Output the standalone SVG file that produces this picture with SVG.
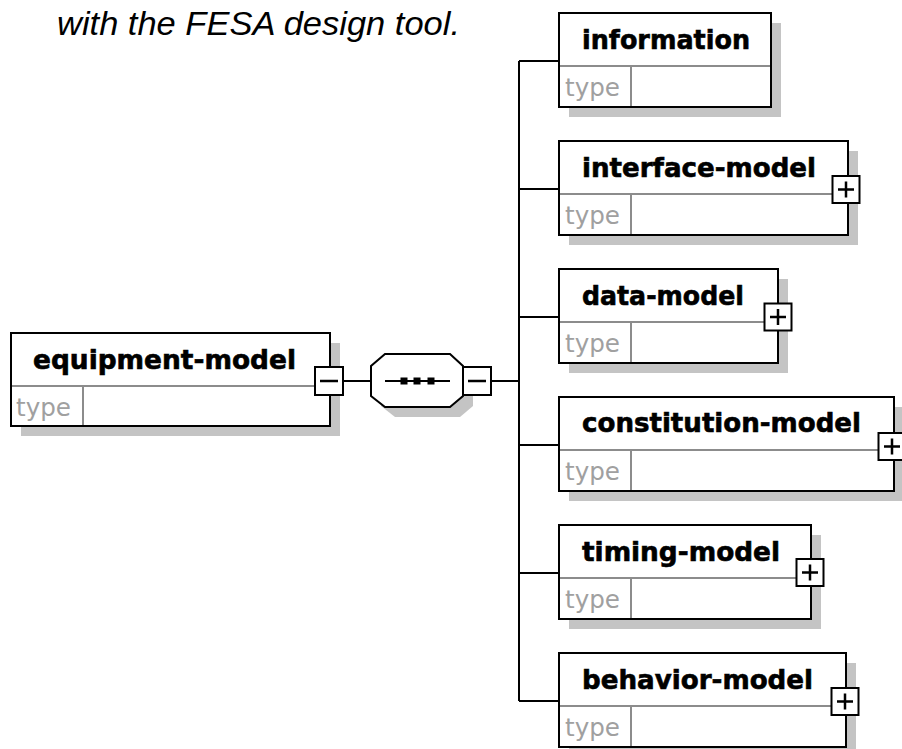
<svg xmlns="http://www.w3.org/2000/svg" xmlns:xlink="http://www.w3.org/1999/xlink" width="902" height="749" viewBox="0 0 902 749">
  <style>
    .shadow { fill: #c4c4c4; }
    .box { fill: #ffffff; stroke: #000000; stroke-width: 2; }
    .sep { stroke: #8c8c8c; stroke-width: 2; fill: none; }
    .name { font-family: "DejaVu Sans", Verdana, sans-serif; font-weight: bold; font-size: 26px; fill: #000000; stroke: #000000; stroke-width: 0.6; }
    .type { font-family: "DejaVu Sans", Verdana, sans-serif; font-size: 24px; fill: #a0a0a0; }
    .wire { stroke: #000000; stroke-width: 2; fill: none; }
    .toggle { fill: #ffffff; stroke: #000000; stroke-width: 2; }
    .sign { stroke: #000000; stroke-width: 2.5; fill: none; }
    .caption { font-family: "Liberation Sans", Arial, sans-serif; font-style: italic; font-size: 34px; fill: #000000; }
  </style>
  <defs>
    <!-- expand / collapse toggles, centred on the origin -->
    <g id="plus">
      <rect class="toggle" x="-13.5" y="-13.5" width="27" height="27"/>
      <path class="sign" d="M -8 0 H 8 M 0 -8 V 8"/>
    </g>
    <g id="minus">
      <rect class="toggle" x="-14" y="-14" width="28" height="28"/>
      <path class="sign" d="M -9 0 H 9"/>
    </g>
  </defs>

  <rect width="902" height="749" fill="#ffffff"/>

  <text class="caption" x="57" y="35" textLength="403" lengthAdjust="spacingAndGlyphs">with the FESA design tool.</text>

  <!-- connectors -->
  <g id="connectors">
    <path class="wire" d="M 343 381 H 371"/>
    <path class="wire" d="M 491 381 H 519"/>
    <path class="wire" d="M 519 61 V 701"/>
    <path class="wire" d="M 519 61 H 559"/>
    <path class="wire" d="M 519 189 H 559"/>
    <path class="wire" d="M 519 317 H 559"/>
    <path class="wire" d="M 519 445 H 559"/>
    <path class="wire" d="M 519 573 H 559"/>
    <path class="wire" d="M 519 701 H 559"/>
  </g>

  <!-- root element -->
  <g id="equipment-model">
    <rect class="shadow" x="21" y="343" width="319" height="93"/>
    <rect class="box" x="11" y="333" width="319" height="93"/>
    <line class="sep" x1="12" y1="386" x2="329" y2="386"/>
    <line class="sep" x1="83" y1="387" x2="83" y2="425"/>
    <text class="name" x="33" y="369" textLength="263" lengthAdjust="spacingAndGlyphs">equipment-model</text>
    <text class="type" x="16" y="416" textLength="55" lengthAdjust="spacingAndGlyphs">type</text>
    <use xlink:href="#minus" x="329" y="381"/>
  </g>

  <!-- sequence compositor -->
  <g id="sequence">
    <polygon class="shadow" points="395,364 460,364 473,376 473,406 460,417 395,417 381,406 381,376"/>
    <polygon class="box" points="385,354 450,354 463,366 463,396 450,407 385,407 371,396 371,366"/>
    <line class="wire" x1="385" y1="381" x2="450" y2="381"/>
    <rect x="400.5" y="377.5" width="7" height="7" fill="#000000"/>
    <rect x="413.5" y="377.5" width="7" height="7" fill="#000000"/>
    <rect x="427.5" y="377.5" width="7" height="7" fill="#000000"/>
    <use xlink:href="#minus" x="477" y="381"/>
  </g>

  <!-- child elements -->
  <g id="information">
    <rect class="shadow" x="569" y="23" width="212" height="94"/>
    <rect class="box" x="559" y="13" width="212" height="94"/>
    <line class="sep" x1="560" y1="66" x2="770" y2="66"/>
    <line class="sep" x1="631" y1="67" x2="631" y2="106"/>
    <text class="name" x="582" y="48.5" textLength="168" lengthAdjust="spacingAndGlyphs">information</text>
    <text class="type" x="565" y="96" textLength="55" lengthAdjust="spacingAndGlyphs">type</text>
  </g>

  <g id="interface-model">
    <rect class="shadow" x="569" y="151" width="289" height="94"/>
    <rect class="box" x="559" y="141" width="289" height="94"/>
    <line class="sep" x1="560" y1="194" x2="847" y2="194"/>
    <line class="sep" x1="631" y1="195" x2="631" y2="234"/>
    <text class="name" x="582" y="176.5" textLength="234" lengthAdjust="spacingAndGlyphs">interface-model</text>
    <text class="type" x="565" y="224" textLength="55" lengthAdjust="spacingAndGlyphs">type</text>
    <use xlink:href="#plus" x="846" y="189.5"/>
  </g>

  <g id="data-model">
    <rect class="shadow" x="569" y="279" width="219" height="94"/>
    <rect class="box" x="559" y="269" width="219" height="94"/>
    <line class="sep" x1="560" y1="322" x2="777" y2="322"/>
    <line class="sep" x1="631" y1="323" x2="631" y2="362"/>
    <text class="name" x="582" y="304.5" textLength="162" lengthAdjust="spacingAndGlyphs">data-model</text>
    <text class="type" x="565" y="352" textLength="55" lengthAdjust="spacingAndGlyphs">type</text>
    <use xlink:href="#plus" x="778" y="317"/>
  </g>

  <g id="constitution-model">
    <rect class="shadow" x="569" y="407" width="335" height="94"/>
    <rect class="box" x="559" y="397" width="335" height="94"/>
    <line class="sep" x1="560" y1="450" x2="893" y2="450"/>
    <line class="sep" x1="631" y1="451" x2="631" y2="490"/>
    <text class="name" x="582" y="431.5" textLength="279" lengthAdjust="spacingAndGlyphs">constitution-model</text>
    <text class="type" x="565" y="480" textLength="55" lengthAdjust="spacingAndGlyphs">type</text>
    <use xlink:href="#plus" x="892" y="446.5"/>
  </g>

  <g id="timing-model">
    <rect class="shadow" x="569" y="535" width="252" height="94"/>
    <rect class="box" x="559" y="525" width="252" height="94"/>
    <line class="sep" x1="560" y1="578" x2="810" y2="578"/>
    <line class="sep" x1="631" y1="579" x2="631" y2="618"/>
    <text class="name" x="582" y="560.5" textLength="198" lengthAdjust="spacingAndGlyphs">timing-model</text>
    <text class="type" x="565" y="608" textLength="55" lengthAdjust="spacingAndGlyphs">type</text>
    <use xlink:href="#plus" x="810" y="572.5"/>
  </g>

  <g id="behavior-model">
    <rect class="shadow" x="569" y="663" width="287" height="94"/>
    <rect class="box" x="559" y="653" width="287" height="94"/>
    <line class="sep" x1="560" y1="706" x2="845" y2="706"/>
    <line class="sep" x1="631" y1="707" x2="631" y2="746"/>
    <text class="name" x="582" y="688.5" textLength="231" lengthAdjust="spacingAndGlyphs">behavior-model</text>
    <text class="type" x="565" y="736" textLength="55" lengthAdjust="spacingAndGlyphs">type</text>
    <use xlink:href="#plus" x="845" y="701.5"/>
  </g>
</svg>
